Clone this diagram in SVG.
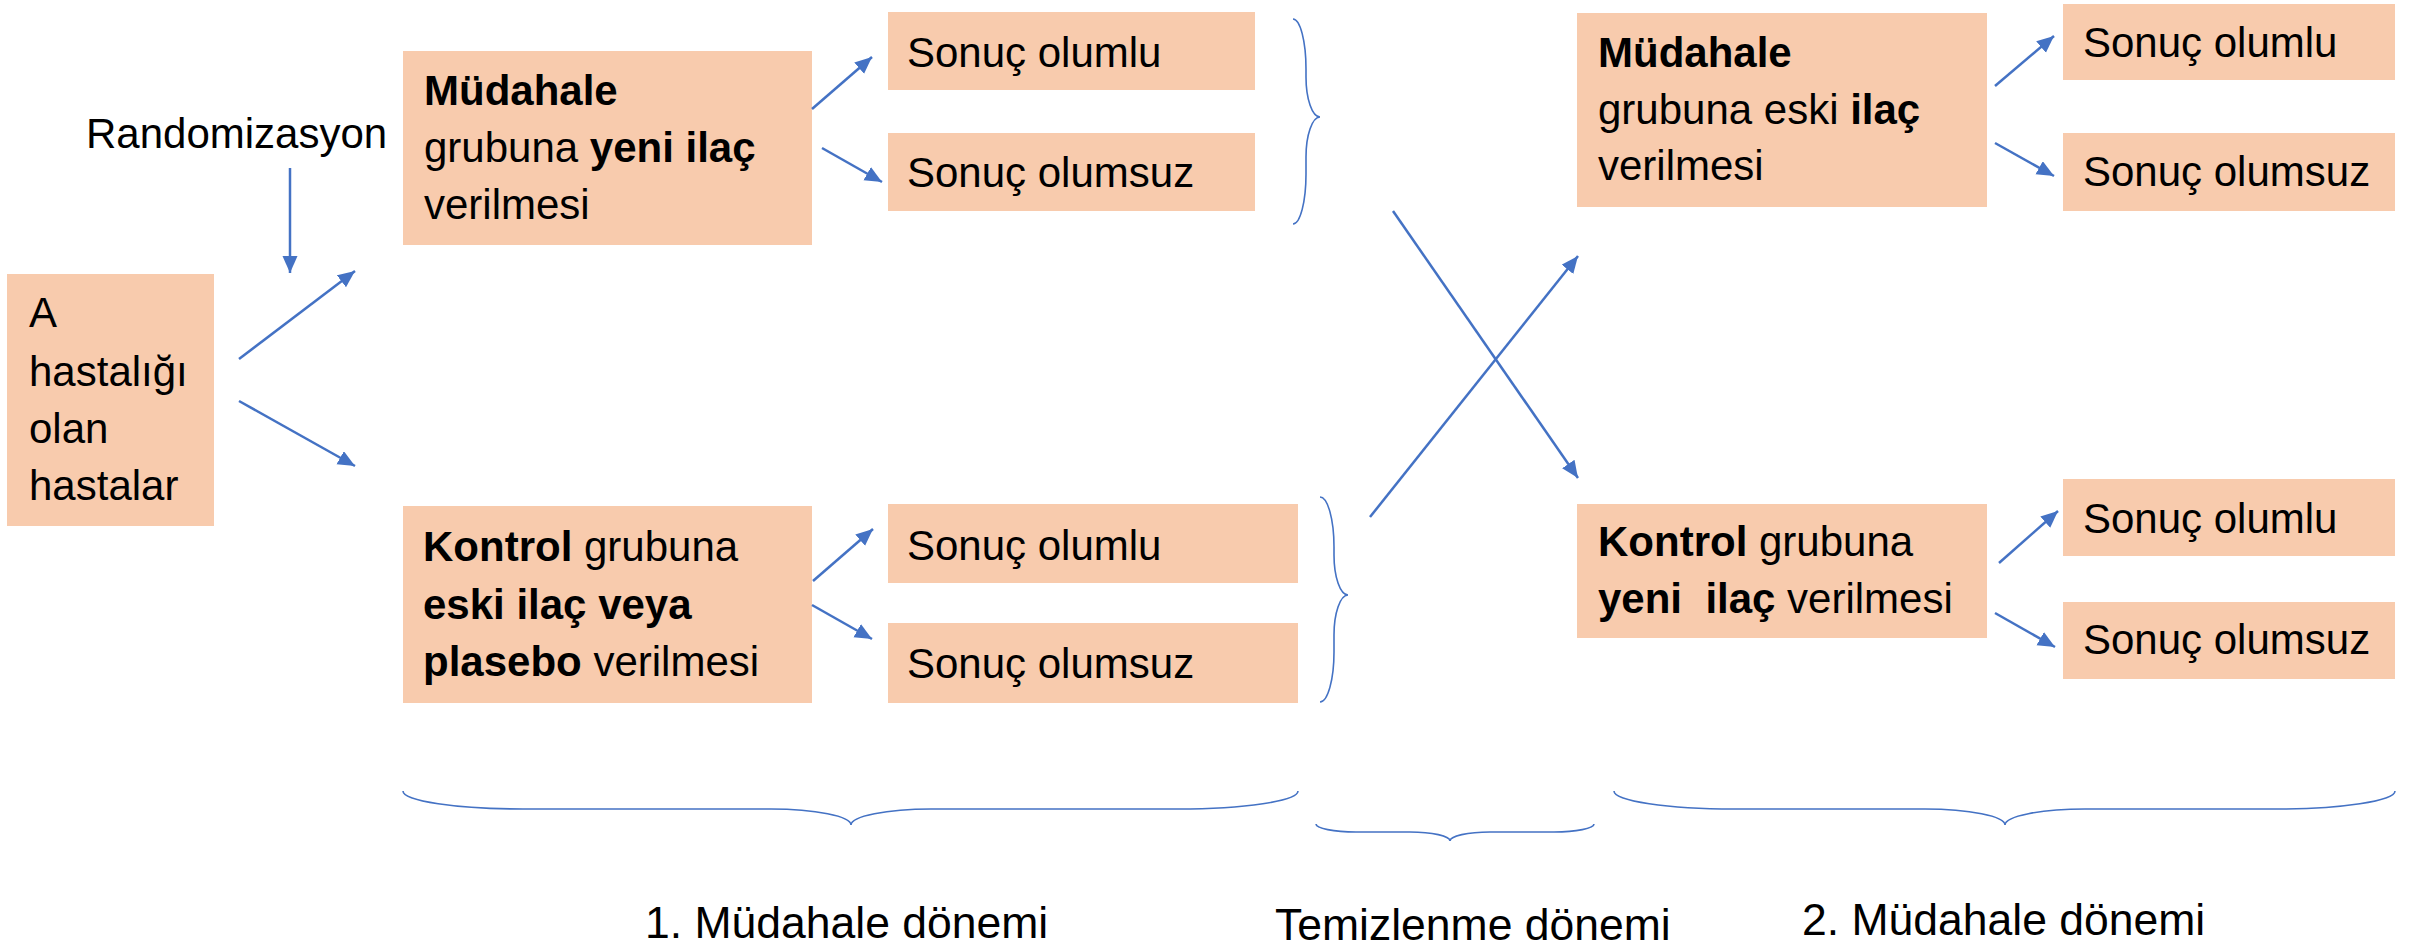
<svg xmlns="http://www.w3.org/2000/svg" width="2430" height="945" viewBox="0 0 2430 945">
<style>
.box{fill:#F8CBAD}
.t{font-family:"Liberation Sans",Arial,sans-serif;font-size:42px;fill:#000}
.lbl{font-size:44.5px}
.b{font-weight:bold}
.ar{stroke:#4472C4;stroke-width:2.5;fill:none;marker-end:url(#ah)}
.br{stroke:#4472C4;stroke-width:1.6;fill:none}
</style>
<defs>
<marker id="ah" markerUnits="userSpaceOnUse" markerWidth="18" markerHeight="16" refX="17" refY="7.5" orient="auto">
<path d="M0,0 L17,7.5 L0,15 z" fill="#4472C4"/>
</marker>
</defs>
<rect width="2430" height="945" fill="#fff"/>

<g id="randomizasyon"><text class="t" x="86" y="148">Randomizasyon</text></g>

<g id="hastalar">
<rect class="box" x="7" y="274" width="207" height="252"/>
<text class="t" x="29" y="327">A</text>
<text class="t" x="29" y="386">hastalığı</text>
<text class="t" x="29" y="443">olan</text>
<text class="t" x="29" y="500">hastalar</text>
</g>

<g id="mudahale1">
<rect class="box" x="403" y="51" width="409" height="194"/>
<text class="t" x="424" y="105"><tspan class="b">Müdahale</tspan></text>
<text class="t" x="424" y="162">grubuna <tspan class="b">yeni ilaç</tspan></text>
<text class="t" x="424" y="219">verilmesi</text>
</g>

<g id="kontrol1">
<rect class="box" x="403" y="506" width="409" height="197"/>
<text class="t" x="423" y="561"><tspan class="b">Kontrol</tspan> grubuna</text>
<text class="t" x="423" y="619"><tspan class="b">eski ilaç veya</tspan></text>
<text class="t" x="423" y="676"><tspan class="b">plasebo</tspan> verilmesi</text>
</g>

<g id="sonuc1a"><rect class="box" x="888" y="12" width="367" height="78"/><text class="t" x="907" y="67">Sonuç olumlu</text></g>
<g id="sonuc1b"><rect class="box" x="888" y="133" width="367" height="78"/><text class="t" x="907" y="187">Sonuç olumsuz</text></g>
<g id="sonuc1c"><rect class="box" x="888" y="504" width="410" height="79"/><text class="t" x="907" y="560">Sonuç olumlu</text></g>
<g id="sonuc1d"><rect class="box" x="888" y="623" width="410" height="80"/><text class="t" x="907" y="678">Sonuç olumsuz</text></g>

<g id="mudahale2">
<rect class="box" x="1577" y="13" width="410" height="194"/>
<text class="t" x="1598" y="67"><tspan class="b">Müdahale</tspan></text>
<text class="t" x="1598" y="124">grubuna eski <tspan class="b">ilaç</tspan></text>
<text class="t" x="1598" y="180">verilmesi</text>
</g>

<g id="kontrol2">
<rect class="box" x="1577" y="504" width="410" height="134"/>
<text class="t" x="1598" y="556"><tspan class="b">Kontrol</tspan> grubuna</text>
<text class="t" x="1598" y="613" xml:space="preserve"><tspan class="b">yeni  ilaç</tspan> verilmesi</text>
</g>

<g id="sonuc2a"><rect class="box" x="2063" y="4" width="332" height="76"/><text class="t" x="2083" y="57">Sonuç olumlu</text></g>
<g id="sonuc2b"><rect class="box" x="2063" y="133" width="332" height="78"/><text class="t" x="2083" y="186">Sonuç olumsuz</text></g>
<g id="sonuc2c"><rect class="box" x="2063" y="479" width="332" height="77"/><text class="t" x="2083" y="533">Sonuç olumlu</text></g>
<g id="sonuc2d"><rect class="box" x="2063" y="602" width="332" height="77"/><text class="t" x="2083" y="654">Sonuç olumsuz</text></g>

<g id="labels">
<text class="t lbl" x="645" y="938">1. Müdahale dönemi</text>
<text class="t lbl" x="1275" y="940">Temizlenme dönemi</text>
<text class="t lbl" x="1802" y="935">2. Müdahale dönemi</text>
</g>

<g id="connectors">
<line class="ar" x1="290" y1="168" x2="290" y2="273"/>
<line class="ar" x1="239" y1="359" x2="355" y2="271"/>
<line class="ar" x1="239" y1="401" x2="355" y2="466"/>
<line class="ar" x1="812" y1="109" x2="872" y2="57"/>
<line class="ar" x1="822" y1="148" x2="882" y2="182"/>
<line class="ar" x1="813" y1="581" x2="873" y2="529"/>
<line class="ar" x1="812" y1="605" x2="872" y2="639"/>
<line class="ar" x1="1393" y1="211" x2="1578" y2="478"/>
<line class="ar" x1="1370" y1="517" x2="1578" y2="256"/>
<line class="ar" x1="1995" y1="86" x2="2054" y2="36"/>
<line class="ar" x1="1995" y1="143" x2="2054" y2="176"/>
<line class="ar" x1="1999" y1="563" x2="2058" y2="511"/>
<line class="ar" x1="1995" y1="613" x2="2055" y2="647"/>
</g>

<g id="braces">
<path class="br" d="M1293 19 A13 50 0 0 1 1306 69 L1306 77 A14 40 0 0 0 1320 117 A14 40 0 0 0 1306 157 L1306 174 A13 50 0 0 1 1293 224"/>
<path class="br" d="M1320 497 A14 50 0 0 1 1334 547 L1334 555 A14 40 0 0 0 1348 595 A14 40 0 0 0 1334 635 L1334 652 A14 50 0 0 1 1320 702"/>
<path class="br" d="M403 791 A120 18 0 0 0 523 809 L771 809 A80 16 0 0 1 851 825 A80 16 0 0 1 931 809 L1178 809 A120 18 0 0 0 1298 791"/>
<path class="br" d="M1316 824 A40 8 0 0 0 1356 832 L1410 832 A40 9 0 0 1 1450 841 A40 9 0 0 1 1490 832 L1554 832 A40 8 0 0 0 1594 824"/>
<path class="br" d="M1614 791 A120 18 0 0 0 1734 809 L1925 809 A80 16 0 0 1 2005 825 A80 16 0 0 1 2085 809 L2275 809 A120 18 0 0 0 2395 791"/>
</g>
</svg>
